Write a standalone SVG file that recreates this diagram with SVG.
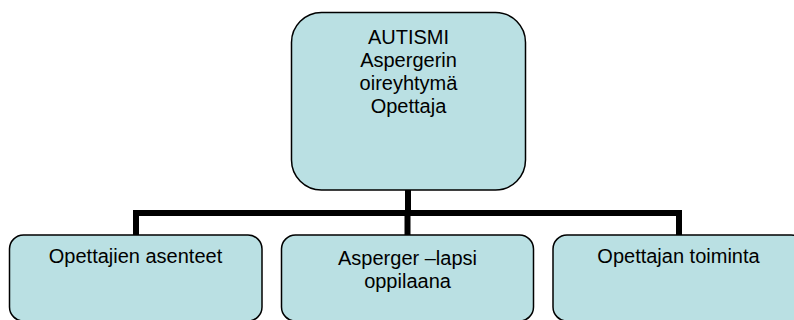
<svg xmlns="http://www.w3.org/2000/svg" width="794" height="320" viewBox="0 0 794 320">
<style>
.box{fill:#BAE0E3;stroke:#000;stroke-width:1.5}
.t{font-family:"Liberation Sans",Arial,sans-serif;font-size:20px;fill:#000;text-anchor:middle}
.c{fill:none;stroke:#000;stroke-width:6}
</style>
<rect width="794" height="320" fill="#fff"/>
<g id="connectors">
<path class="c" d="M408 190V213"/>
<path class="c" d="M136 235V213H679V235"/>
<path class="c" d="M407.5 213V235"/>
</g>
<g id="top">
<rect class="box" x="291.5" y="12.5" width="234" height="177.5" rx="30" ry="30"/>
<text class="t" x="408.5" y="44">AUTISMI</text>
<text class="t" x="408.5" y="67">Aspergerin</text>
<text class="t" x="408.5" y="90">oireyhtymä</text>
<text class="t" x="408.5" y="113">Opettaja</text>
</g>
<g id="n1">
<rect class="box" x="9.5" y="235" width="252.5" height="86" rx="14" ry="14"/>
<text class="t" x="135.5" y="263">Opettajien asenteet</text>
</g>
<g id="n2">
<rect class="box" x="281.5" y="235" width="252" height="86" rx="14" ry="14"/>
<text class="t" x="407.5" y="264.5">Asperger –lapsi</text>
<text class="t" x="407.5" y="287.5">oppilaana</text>
</g>
<g id="n3">
<rect class="box" x="553" y="235" width="252" height="86" rx="14" ry="14"/>
<text class="t" x="678.5" y="263">Opettajan toiminta</text>
</g>
</svg>
